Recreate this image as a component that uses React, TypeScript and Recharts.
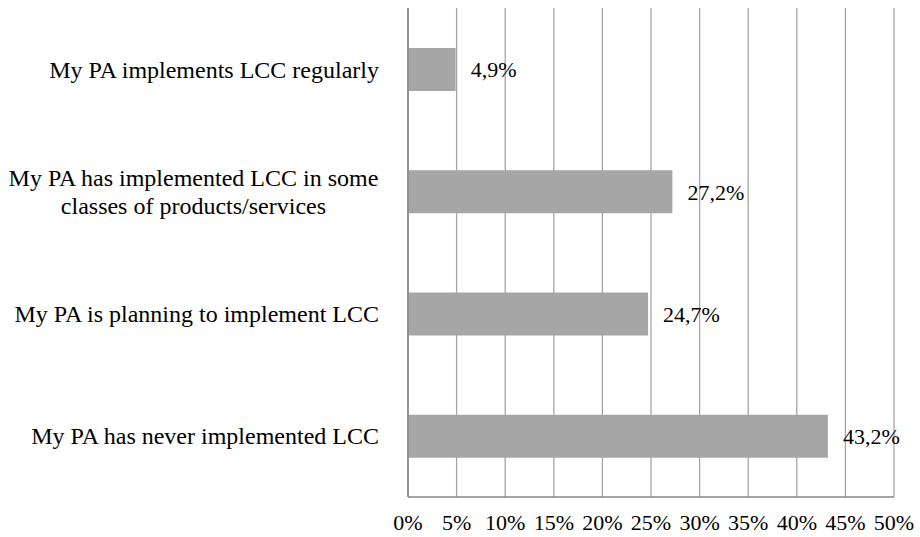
import React from 'react';
import { BarChart, Bar, XAxis, YAxis, CartesianGrid, LabelList } from 'recharts';

const categories: string[] = [
  'My PA implements LCC regularly',
  'My PA has implemented LCC in some\nclasses of products/services',
  'My PA is planning to implement LCC',
  'My PA has never implemented LCC',
];
const values: number[] = [4.9, 27.2, 24.7, 43.2];
const xTicks: number[] = [0, 5, 10, 15, 20, 25, 30, 35, 40, 45, 50];

const data = categories.map((name, i) => ({ name, value: values[i] }));

const FONT = '"Liberation Serif", "Times New Roman", monospace';
const CAT_FS = 24;
const FS = 22;

let ctx: CanvasRenderingContext2D | null = null;
function measure(t: string): number {
  if (!ctx) {
    const c = document.createElement('canvas');
    ctx = c.getContext('2d');
  }
  if (!ctx) return t.length * CAT_FS * 0.45;
  ctx.font = `${CAT_FS}px "Liberation Serif"`;
  return ctx.measureText(t).width;
}

const catStyle: React.CSSProperties = { fontFamily: FONT, fontSize: CAT_FS, fill: '#000' };
const textStyle: React.CSSProperties = { fontFamily: FONT, fontSize: FS, fill: '#000' };

const CategoryTick = (props: any) => {
  const { x, y, payload } = props;
  const lines: string[] = String(payload.value).split('\n');
  const endX = x - 21;
  const lh = 28;
  if (lines.length === 1) {
    return (
      <text x={endX} y={y} dy="0.35em" textAnchor="end" style={catStyle}>
        {lines[0]}
      </text>
    );
  }
  const maxW = Math.max(...lines.map(measure));
  const cx = endX - maxW / 2;
  const startY = y - ((lines.length - 1) * lh) / 2;
  return (
    <text textAnchor="middle" style={catStyle}>
      {lines.map((l, i) => (
        <tspan key={i} x={cx} y={startY + i * lh} dy="0.35em">
          {l}
        </tspan>
      ))}
    </text>
  );
};

const ValueTick = (props: any) => {
  const { x, y, payload } = props;
  return (
    <text x={x} y={y} dy="0.71em" textAnchor="middle" style={textStyle}>
      {`${payload.value}%`}
    </text>
  );
};

export default function App() {
  return (
    <div style={{ position: 'absolute', left: 0, top: 0, width: 920, height: 537, background: '#fff' }}>
      <BarChart
        width={920}
        height={537}
        data={data}
        layout="vertical"
        margin={{ top: 8, right: 26, bottom: 0, left: 0 }}
      >
        <CartesianGrid vertical horizontal={false} stroke="#a6a6a6" strokeWidth={1.3} />
        <XAxis
          type="number"
          domain={[0, 50]}
          ticks={xTicks}
          interval={0}
          tickLine={false}
          tickSize={6}
          tickMargin={11}
          height={40}
          axisLine={{ stroke: '#868686', strokeWidth: 1.5 }}
          tick={<ValueTick />}
        />
        <YAxis
          type="category"
          dataKey="name"
          width={408}
          tickLine={false}
          axisLine={{ stroke: '#868686', strokeWidth: 1.5 }}
          tick={<CategoryTick />}
          interval={0}
        />
        <Bar dataKey="value" fill="#a6a6a6" barSize={43} isAnimationActive={false}>
          <LabelList
            dataKey="value"
            position="right"
            offset={15}
            formatter={(v: number) => `${v.toFixed(1).replace('.', ',')}%`}
            style={textStyle}
          />
        </Bar>
      </BarChart>
    </div>
  );
}
